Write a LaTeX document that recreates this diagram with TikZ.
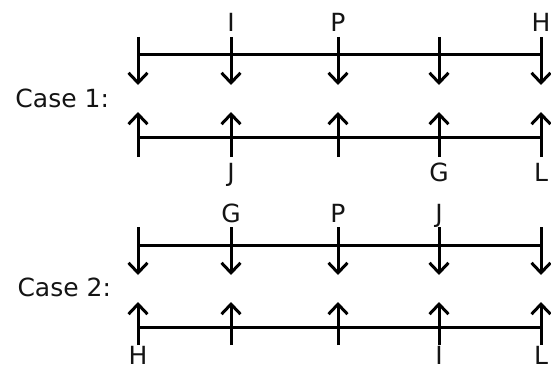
\documentclass[tikz,border=0pt]{standalone}
\usepackage{fontspec}
\setmainfont{DejaVu Sans}
\usetikzlibrary{arrows.meta,positioning}

\begin{document}
\begin{tikzpicture}[x=1pt,y=-1pt,>={Straight Barb[length=10pt,width=19pt]},line width=3pt,
	lbl/.style={inner sep=0pt,text=black!92,font=\fontsize{25}{29}\selectfont}]
			\useasboundingbox (0,0) rectangle (551,369);
			% case labels
			\node[lbl,anchor=west] (case_1) at (14,98) {Case 1:};
			\node[lbl,anchor=west] (case_2) at (16,287) {Case 2:};
			% arrow ends for every column
			\foreach \x [count=\i] in {138,231,338,439,541} {
				\coordinate (a_\i) at (\x,37);  \coordinate (b_\i) at (\x,85);
				\coordinate (c_\i) at (\x,157); \coordinate (d_\i) at (\x,112);
				\coordinate (e_\i) at (\x,227); \coordinate (f_\i) at (\x,275);
				\coordinate (g_\i) at (\x,345); \coordinate (h_\i) at (\x,302);
				\draw[->] (a_\i) -- (b_\i);
				\draw[->] (c_\i) -- (d_\i);
				\draw[->] (e_\i) -- (f_\i);
				\draw[->] (g_\i) -- (h_\i);
			}
			% horizontal lines
			\draw (a_1 |- 0,55) coordinate (l_1) -- (l_1 -| a_5);
			\draw (c_1 |- 0,137) coordinate (l_2) -- (l_2 -| c_5);
			\draw (e_1 |- 0,245) coordinate (l_3) -- (l_3 -| e_5);
			\draw (g_1 |- 0,327) coordinate (l_4) -- (l_4 -| g_5);
			% case 1 names
			\node[lbl,anchor=base] (I_1) at (a_2 |- 0,32) {I};
			\node[lbl,anchor=base] (P_1) at (a_3 |- 0,32) {P};
			\node[lbl,anchor=base] (H_1) at (a_5 |- 0,32) {H};
			\node[lbl,anchor=base] (J_1) at (c_2 |- 0,181) {J};
			\node[lbl,anchor=base] (G_1) at (c_4 |- 0,181) {G};
			\node[lbl,anchor=base] (L_1) at (c_5 |- 0,181) {L};
			% case 2 names
			\node[lbl,anchor=base] (G_2) at (e_2 |- 0,222) {G};
			\node[lbl,anchor=base] (P_2) at (e_3 |- 0,222) {P};
			\node[lbl,anchor=base] (J_2) at (e_4 |- 0,222) {J};
			\node[lbl,anchor=base] (H_2) at (g_1 |- 0,364) {H};
			\node[lbl,anchor=base] (I_2) at (g_4 |- 0,364) {I};
			\node[lbl,anchor=base] (L_2) at (g_5 |- 0,364) {L};
		\end{tikzpicture}
\end{document}
